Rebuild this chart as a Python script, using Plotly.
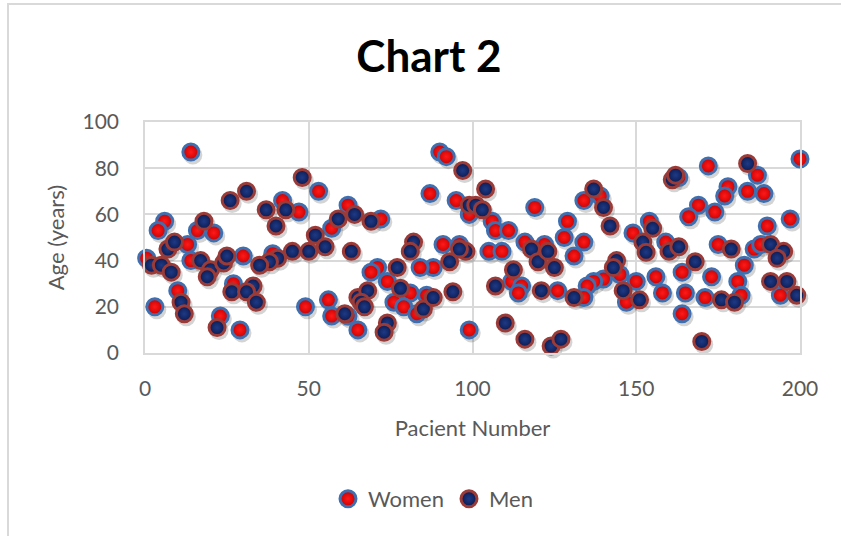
import plotly.graph_objects as go

# Patients and their ages, split by sex
women_patient = [14, 6, 4, 16, 21, 0.5, 13, 14, 30, 10, 3, 27, 23, 29,
                 53, 42, 47, 57, 62, 39, 49, 56, 57, 62, 65,
                 90, 92, 87, 95, 99, 72, 91, 96, 88, 84, 71, 69, 74, 81, 76, 79, 83, 86, 99,
                 106, 107, 111, 119, 105, 109, 116, 122, 128, 129, 131, 112, 115, 114, 126,
                 134, 139, 149, 154, 159, 134, 145, 140, 137, 135, 134, 147, 150, 156, 158,
                 164, 165, 164,
                 172, 187, 178, 177, 184, 189, 200, 169, 166, 174, 190, 197, 175, 186, 188,
                 183, 173, 181, 182, 171, 194, 163]
women_age = [87, 57, 53, 53, 52, 41, 47, 40, 42, 27, 20, 30, 16, 10,
             70, 66, 61, 54, 64, 43, 20, 23, 16, 16, 10,
             87, 85, 69, 66, 60, 58, 47, 47, 37, 37, 37, 35, 31, 26, 22, 20, 17, 25, 10,
             57, 53, 53, 63, 44, 44, 48, 47, 50, 57, 42, 31, 29, 26, 27,
             66, 68, 52, 57, 48, 48, 34, 32, 31, 29, 24, 22, 31, 33, 26,
             35, 26, 17,
             81, 77, 72, 68, 70, 69, 84, 64, 59, 61, 55, 58, 47, 45, 47,
             38, 33, 31, 25, 24, 25, 76]

men_patient = [26, 31, 18, 2, 5, 8, 7, 9, 17, 20, 19, 24, 25, 11, 12, 26.5, 33, 31, 22,
               48, 37, 43, 40, 59, 64, 52, 55, 50, 45, 40.5, 38, 35, 63, 34, 61, 65,
               97, 99, 69, 82, 81, 98, 93, 77, 78, 68, 66, 67, 85, 88, 94, 74, 73,
               104, 101, 103, 96, 118, 120, 123, 125, 112.5, 107, 121, 131, 110, 116, 124, 127,
               161, 162, 137, 140, 142, 155, 152, 153, 160, 163, 144, 143, 146, 151, 168,
               184, 179, 191, 195, 193, 176, 180, 191, 196, 199, 170]
men_age = [66, 70, 57, 38, 38, 35, 45, 48, 40, 36, 33, 39, 42, 22, 17, 26.5, 29, 26.5, 11,
           76, 62, 62, 55, 58, 60, 51, 46, 44, 44, 41, 39.5, 38, 44, 22, 17, 24,
           79, 64, 57, 48, 44, 44, 39.5, 37, 28, 27, 22, 20, 19, 24, 26.5, 13, 9,
           71, 64, 62, 45, 45, 39.5, 44, 37, 36, 29, 27, 24, 13, 6, 3, 6,
           75, 77, 71, 63, 55, 54, 48, 43.6, 44, 46, 40, 37, 27, 23, 39.5,
           82, 45, 47, 44, 41, 23, 22, 31, 31, 25, 5]

x_ticks = [0, 50, 100, 150, 200]
y_ticks = [0, 20, 40, 60, 80, 100]

W, H = 841, 536
MARGIN = dict(l=145, r=41, t=122, b=183)
PLOT_W = W - MARGIN["l"] - MARGIN["r"]
PLOT_H = H - MARGIN["t"] - MARGIN["b"]
X_RANGE = [0, 200]
Y_RANGE = [0, 100]

# soft drop shadow: a second pair of axes, offset by a few pixels
SHADOW_DX, SHADOW_DY = 2, 3
sx = SHADOW_DX * (X_RANGE[1] - X_RANGE[0]) / PLOT_W
sy = SHADOW_DY * (Y_RANGE[1] - Y_RANGE[0]) / PLOT_H

FONT = "Lato, 'Open Sans', sans-serif"
GREY_TEXT = "#595959"
GRID = "#D9D9D9"
MARKER_SIZE = 16

fig = go.Figure()

for px, ag in ((women_patient, women_age), (men_patient, men_age)):
    fig.add_trace(go.Scatter(
        x=px, y=ag, mode="markers", xaxis="x", yaxis="y",
        marker=dict(size=MARKER_SIZE + 3, color="rgba(60,60,60,0.22)", line=dict(width=0)),
        showlegend=False, hoverinfo="skip", cliponaxis=False,
    ))

fig.add_trace(go.Scatter(
    x=women_patient, y=women_age, mode="markers", name="Women",
    xaxis="x2", yaxis="y2", cliponaxis=False,
    marker=dict(size=MARKER_SIZE, color="#C80000",
                gradient=dict(type="radial", color="#FF1A1A"),
                line=dict(color="#3F6FAF", width=3)),
))
fig.add_trace(go.Scatter(
    x=men_patient, y=men_age, mode="markers", name="Men",
    xaxis="x2", yaxis="y2", cliponaxis=False,
    marker=dict(size=MARKER_SIZE, color="#0B1A4F",
                gradient=dict(type="radial", color="#1E3A86"),
                line=dict(color="#9A3B38", width=3)),
))

tick_font = dict(family=FONT, size=21, color=GREY_TEXT)
title_font = dict(family=FONT, size=22, color=GREY_TEXT)

fig.update_layout(
    width=W, height=H, margin=MARGIN,
    paper_bgcolor="white", plot_bgcolor="white",
    title=dict(text="Chart 2", x=0.51, xref="container", xanchor="center",
               y=1 - 57 / H, yref="container", yanchor="middle",
               font=dict(family=FONT, size=44, color="black", weight=700)),
    xaxis=dict(range=[X_RANGE[0] - sx, X_RANGE[1] - sx], visible=False, fixedrange=True),
    yaxis=dict(range=[Y_RANGE[0] + sy, Y_RANGE[1] + sy], visible=False, fixedrange=True),
    xaxis2=dict(range=X_RANGE, overlaying="x", anchor="y2", side="bottom",
                tickvals=x_ticks, ticktext=[str(v) for v in x_ticks],
                showgrid=True, gridcolor=GRID, gridwidth=1.5, zeroline=False,
                showline=True, linecolor=GRID, linewidth=1.5, mirror=True,
                ticks="", ticklabelstandoff=16, tickfont=tick_font,
                title=dict(text="Pacient Number", font=title_font, standoff=22)),
    yaxis2=dict(range=Y_RANGE, overlaying="y", anchor="x2", side="left",
                tickvals=y_ticks, ticktext=[str(v) for v in y_ticks],
                showgrid=True, gridcolor=GRID, gridwidth=1.5, zeroline=False,
                showline=True, linecolor=GRID, linewidth=1.5, mirror=True,
                ticks="", ticklabelstandoff=20, tickfont=tick_font,
                title=dict(text="Age (years)", font=title_font, standoff=12)),
    legend=dict(orientation="h", x=433 / W, xref="container", xanchor="center",
                y=1 - 499 / H, yref="container", yanchor="middle",
                font=dict(family=FONT, size=22, color=GREY_TEXT),
                itemwidth=30, tracegroupgap=0),
    showlegend=True,
)

# outer chart frame
fig.add_shape(type="rect", xref="paper", yref="paper",
              x0=(8 - MARGIN["l"]) / PLOT_W, x1=(W + 20 - MARGIN["l"]) / PLOT_W,
              y0=-(H + 20 - (H - MARGIN["b"])) / PLOT_H, y1=(H - MARGIN["b"] - 4) / PLOT_H,
              line=dict(color=GRID, width=2), fillcolor="rgba(0,0,0,0)", layer="below")

fig.write_html("out.html")
